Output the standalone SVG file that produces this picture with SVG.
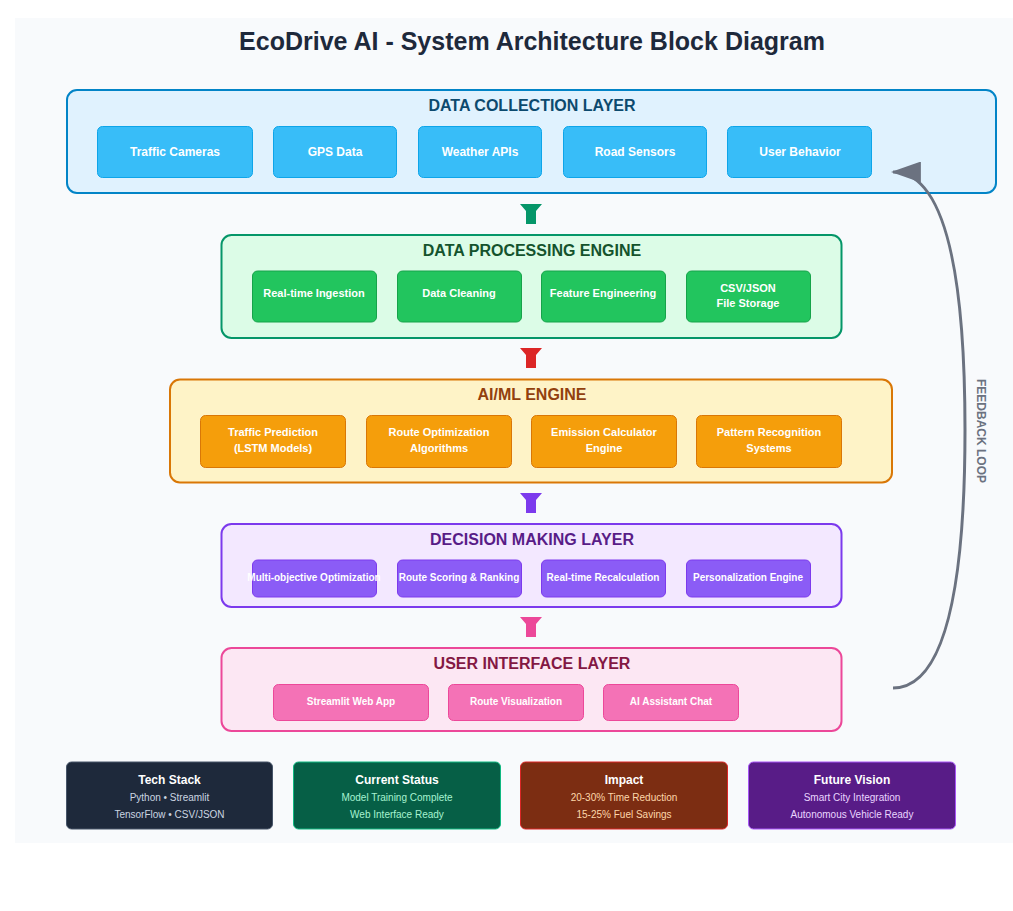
<svg xmlns="http://www.w3.org/2000/svg" width="1013" height="911" viewBox="0 0 1013 911">
<defs>
<marker id="fbArrow" markerWidth="10" markerHeight="7" refX="9.3" refY="3.5" orient="auto" markerUnits="strokeWidth">
<path d="M0,0 L10,3.5 L0,7 Z" fill="#6b7280"/>
</marker>
<style>
text{font-family:"Liberation Sans",Arial,Helvetica,sans-serif;text-anchor:middle}
.title{font-size:25px;font-weight:bold;fill:#1e293b}
.lt{font-size:16px;font-weight:bold}
.b12{font-size:12px;font-weight:bold;fill:#fff}
.b11{font-size:11px;font-weight:bold;fill:#fff}
.b10{font-size:10px;font-weight:bold;fill:#fff}
.layer{stroke-width:2}
.box{stroke-width:1}
.ct{font-size:12px;font-weight:bold;fill:#fff}
.cl{font-size:10px}
</style>
</defs>
<rect x="15" y="18" width="998" height="825" fill="#f8fafc"/>
<text class="title" x="532" y="50">EcoDrive AI - System Architecture Block Diagram</text>

<g id="layer-data-collection">
<rect class="layer" x="67" y="90" width="929" height="103" rx="10" fill="#e0f2fe" stroke="#0284c7"/>
<text class="lt" x="532" y="111" fill="#0c4a6e">DATA COLLECTION LAYER</text>
<g id="n-traffic-cameras"><rect class="box" x="97.5" y="126.5" width="155" height="51" rx="5" fill="#38bdf8" stroke="#0ea5e9"/><text class="b12" x="175" y="156">Traffic Cameras</text></g>
<g id="n-gps"><rect class="box" x="273.5" y="126.5" width="123" height="51" rx="5" fill="#38bdf8" stroke="#0ea5e9"/><text class="b12" x="335" y="156">GPS Data</text></g>
<g id="n-weather"><rect class="box" x="418.5" y="126.5" width="123" height="51" rx="5" fill="#38bdf8" stroke="#0ea5e9"/><text class="b12" x="480" y="156">Weather APIs</text></g>
<g id="n-road"><rect class="box" x="563.5" y="126.5" width="143" height="51" rx="5" fill="#38bdf8" stroke="#0ea5e9"/><text class="b12" x="635" y="156">Road Sensors</text></g>
<g id="n-user"><rect class="box" x="727.5" y="126.5" width="144" height="51" rx="5" fill="#38bdf8" stroke="#0ea5e9"/><text class="b12" x="800" y="156">User Behavior</text></g>
</g>

<g id="layer-data-processing">
<rect class="layer" x="221.5" y="235" width="620" height="103" rx="10" fill="#dcfce7" stroke="#059669"/>
<text class="lt" x="532" y="256" fill="#14532d">DATA PROCESSING ENGINE</text>
<g id="n-ingest"><rect class="box" x="252.5" y="271" width="124" height="51" rx="5" fill="#22c55e" stroke="#16a34a"/><text class="b11" x="314" y="297">Real-time Ingestion</text></g>
<g id="n-clean"><rect class="box" x="397.5" y="271" width="124" height="51" rx="5" fill="#22c55e" stroke="#16a34a"/><text class="b11" x="459" y="297">Data Cleaning</text></g>
<g id="n-feature"><rect class="box" x="541.5" y="271" width="124" height="51" rx="5" fill="#22c55e" stroke="#16a34a"/><text class="b11" x="603" y="297">Feature Engineering</text></g>
<g id="n-storage"><rect class="box" x="686.5" y="271" width="124" height="51" rx="5" fill="#22c55e" stroke="#16a34a"/><text class="b11" x="748" y="292">CSV/JSON</text><text class="b11" x="748" y="307">File Storage</text></g>
</g>

<g id="layer-aiml">
<rect class="layer" x="170" y="379.5" width="722" height="103" rx="10" fill="#fef3c7" stroke="#d97706"/>
<text class="lt" x="532" y="400" fill="#92400e">AI/ML ENGINE</text>
<g id="n-traffic-pred"><rect class="box" x="200.5" y="415.5" width="145" height="52" rx="5" fill="#f59e0b" stroke="#d97706"/><text class="b11" x="273" y="436">Traffic Prediction</text><text class="b11" x="273" y="452">(LSTM Models)</text></g>
<g id="n-route-opt"><rect class="box" x="366.5" y="415.5" width="145" height="52" rx="5" fill="#f59e0b" stroke="#d97706"/><text class="b11" x="439" y="436">Route Optimization</text><text class="b11" x="439" y="452">Algorithms</text></g>
<g id="n-emission"><rect class="box" x="531.5" y="415.5" width="145" height="52" rx="5" fill="#f59e0b" stroke="#d97706"/><text class="b11" x="604" y="436">Emission Calculator</text><text class="b11" x="604" y="452">Engine</text></g>
<g id="n-pattern"><rect class="box" x="696.5" y="415.5" width="145" height="52" rx="5" fill="#f59e0b" stroke="#d97706"/><text class="b11" x="769" y="436">Pattern Recognition</text><text class="b11" x="769" y="452">Systems</text></g>
</g>

<g id="layer-decision">
<rect class="layer" x="221.5" y="524" width="620" height="83" rx="10" fill="#f3e8ff" stroke="#7c3aed"/>
<text class="lt" x="532" y="545" fill="#581c87">DECISION MAKING LAYER</text>
<g id="n-multi"><rect class="box" x="252.5" y="560" width="124" height="37" rx="5" fill="#8b5cf6" stroke="#7c3aed"/><text class="b10" x="314" y="581">Multi-objective Optimization</text></g>
<g id="n-scoring"><rect class="box" x="397.5" y="560" width="124" height="37" rx="5" fill="#8b5cf6" stroke="#7c3aed"/><text class="b10" x="459" y="581">Route Scoring &amp; Ranking</text></g>
<g id="n-recalc"><rect class="box" x="541.5" y="560" width="124" height="37" rx="5" fill="#8b5cf6" stroke="#7c3aed"/><text class="b10" x="603" y="581">Real-time Recalculation</text></g>
<g id="n-personal"><rect class="box" x="686.5" y="560" width="124" height="37" rx="5" fill="#8b5cf6" stroke="#7c3aed"/><text class="b10" x="748" y="581">Personalization Engine</text></g>
</g>

<g id="layer-ui">
<rect class="layer" x="221.5" y="648" width="620" height="83" rx="10" fill="#fce7f3" stroke="#ec4899"/>
<text class="lt" x="532" y="669" fill="#831843">USER INTERFACE LAYER</text>
<g id="n-streamlit"><rect class="box" x="273.5" y="684.5" width="155" height="36" rx="5" fill="#f472b6" stroke="#ec4899"/><text class="b10" x="351" y="705">Streamlit Web App</text></g>
<g id="n-routeviz"><rect class="box" x="448.5" y="684.5" width="135" height="36" rx="5" fill="#f472b6" stroke="#ec4899"/><text class="b10" x="516" y="705">Route Visualization</text></g>
<g id="n-chat"><rect class="box" x="603.5" y="684.5" width="135" height="36" rx="5" fill="#f472b6" stroke="#ec4899"/><text class="b10" x="671" y="705">AI Assistant Chat</text></g>
</g>

<g id="connectors">
<polygon points="520,204 542,204 536,211 536,224 526,224 526,211" fill="#059669"/>
<polygon points="520,348 542,348 536,355 536,368 526,368 526,355" fill="#dc2626"/>
<polygon points="520,493 542,493 536,500 536,513 526,513 526,500" fill="#7c3aed"/>
<polygon points="520,617 542,617 536,624 536,637 526,637 526,624" fill="#ec4899"/>
<path d="M 893 688 Q 965 688 965 430 Q 965 172 893 172" fill="none" stroke="#6b7280" stroke-width="3" marker-end="url(#fbArrow)"/>
<text x="980" y="431" transform="rotate(90 980 431)" font-size="12" font-weight="bold" fill="#6b7280" dominant-baseline="middle">FEEDBACK LOOP</text>
</g>

<g id="card-tech">
<rect x="66.5" y="762" width="206" height="67" rx="5" fill="#1e293b" stroke="#475569"/>
<text class="ct" x="169.5" y="784">Tech Stack</text>
<text class="cl" x="169.5" y="801" fill="#cbd5e1">Python • Streamlit</text>
<text class="cl" x="169.5" y="818" fill="#cbd5e1">TensorFlow • CSV/JSON</text>
</g>
<g id="card-status">
<rect x="293.5" y="762" width="207" height="67" rx="5" fill="#065f46" stroke="#10b981"/>
<text class="ct" x="397" y="784">Current Status</text>
<text class="cl" x="397" y="801" fill="#a7f3d0">Model Training Complete</text>
<text class="cl" x="397" y="818" fill="#a7f3d0">Web Interface Ready</text>
</g>
<g id="card-impact">
<rect x="520.5" y="762" width="207" height="67" rx="5" fill="#7c2d12" stroke="#dc2626"/>
<text class="ct" x="624" y="784">Impact</text>
<text class="cl" x="624" y="801" fill="#fed7aa">20-30% Time Reduction</text>
<text class="cl" x="624" y="818" fill="#fed7aa">15-25% Fuel Savings</text>
</g>
<g id="card-future">
<rect x="748.5" y="762" width="207" height="67" rx="5" fill="#581c87" stroke="#a855f7"/>
<text class="ct" x="852" y="784">Future Vision</text>
<text class="cl" x="852" y="801" fill="#e9d5ff">Smart City Integration</text>
<text class="cl" x="852" y="818" fill="#e9d5ff">Autonomous Vehicle Ready</text>
</g>
</svg>
